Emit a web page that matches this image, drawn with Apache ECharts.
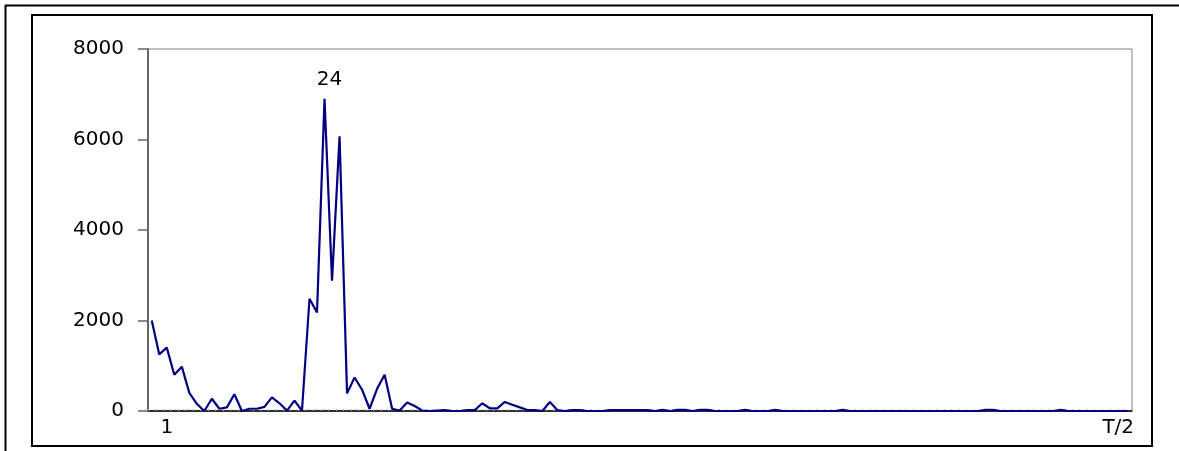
<!DOCTYPE html>
<html>
<head>
<meta charset="utf-8">
<script src="https://cdn.jsdelivr.net/npm/echarts@6/dist/echarts.min.js"></script>
<style>
html,body{margin:0;padding:0;background:#fff;}
#c{width:1179px;height:451px;}
</style>
</head>
<body>
<div id="c"></div>
<script>
// number of frequencies shown (1 .. T/2)
const N = 131;
const categories = Array.from({length: N}, (_, i) => String(i + 1));
// periodogram values
const values = [
  2000,1250,1400,800,980,400,160,0,270,50,
  80,370,0,50,50,90,300,170,10,230,
  10,2480,2180,6900,2880,6070,390,740,470,50,
  490,800,50,10,190,110,10,0,10,20,
  0,0,20,20,170,60,60,200,140,80,
  20,20,0,200,20,0,20,20,0,0,
  0,20,20,20,20,20,20,0,25,0,
  25,25,0,25,25,0,0,0,0,25,
  0,0,0,25,0,0,0,0,0,0,
  0,0,25,0,0,0,0,0,0,0,
  0,0,0,0,0,0,0,0,0,0,
  0,25,25,0,0,0,0,0,0,0,
  0,25,0,0,0,0,0,0,0,0,
  0
];
const firstTickLabel = "1";
const lastTickLabel = "T/2";
const peakIndex = 24; // labelled frequency
const yTicks = [0, 2000, 4000, 6000, 8000];

const FONT = 'DejaVu Sans';
const FS = 20;
const chart = echarts.init(document.getElementById('c'));

const seriesData = values.map((v, i) => (i + 1 === peakIndex)
  ? {value: v, symbol: 'circle', symbolSize: 1,
     itemStyle: {color: 'rgba(0,0,128,0)'},
     label: {show: true, position: 'top', distance: 8, offset: [5, 0],
      formatter: String(peakIndex), color: '#000', fontFamily: FONT, fontSize: FS}}
  : {value: v, symbol: 'none'});

chart.setOption({
  animation: false,
  backgroundColor: '#fff',
  grid: {left: 148, top: 49, right: 47, bottom: 40, show: true,
         borderColor: '#808080', borderWidth: 1, backgroundColor: 'transparent'},
  xAxis: {
    type: 'category',
    data: categories,
    boundaryGap: true,
    axisLine: {lineStyle: {color: '#000', width: 1.5}},
    axisTick: {show: true, inside: true, length: 2, interval: 0, lineStyle: {color: '#aaa', width: 1}},
    axisLabel: {
      interval: 0,
      margin: 7,
      formatter: function (val, idx) {
        if (idx === 0) return '{a|' + firstTickLabel + '}';
        if (idx === N - 1) return '{b|' + lastTickLabel + '}';
        return '';
      },
      rich: {
        a: {fontFamily: FONT, fontSize: FS, color: '#000', padding: [0, 0, 0, 30]},
        b: {fontFamily: FONT, fontSize: FS, color: '#000', padding: [0, 20, 0, 0]}
      }
    },
    splitLine: {show: false}
  },
  yAxis: {
    type: 'value',
    min: yTicks[0],
    max: yTicks[yTicks.length - 1],
    interval: 2000,
    axisLine: {show: true, lineStyle: {color: '#666', width: 2}},
    axisTick: {show: true, length: 10, lineStyle: {color: '#666', width: 1.5}},
    axisLabel: {margin: 24, fontFamily: FONT, fontSize: FS, color: '#000',
                formatter: function (v) { return String(v); }},
    splitLine: {show: false}
  },
  series: [{
    type: 'line',
    data: seriesData,
    showSymbol: true,
    showAllSymbol: true,
    lineStyle: {color: '#000080', width: 2.2},
    itemStyle: {color: '#000080'},
    z: 3
  }],
  graphic: [
    {type: 'line', shape: {x1: 5, y1: 5.5, x2: 1179, y2: 5.5}, style: {stroke: '#000', lineWidth: 2}},
    {type: 'line', shape: {x1: 5.5, y1: 5, x2: 5.5, y2: 451}, style: {stroke: '#000', lineWidth: 2}},
    {type: 'rect', shape: {x: 32, y: 15, width: 1120, height: 431}, style: {fill: 'none', stroke: '#000', lineWidth: 2}}
  ]
});
</script>
</body>
</html>
